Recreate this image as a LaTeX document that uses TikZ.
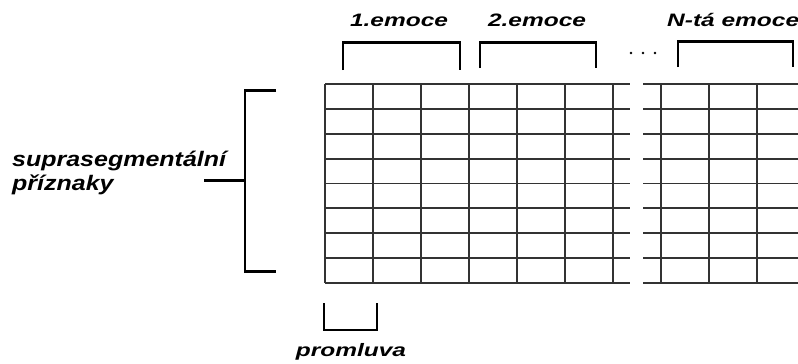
\documentclass[tikz,border=0pt]{standalone}
\usepackage{fontspec}
\setmainfont{Liberation Sans}[FakeStretch=1.36]
\newfontfamily\widefont{Liberation Sans}[FakeStretch=1.19]
\begin{document}
\begin{tikzpicture}[x=1bp,y=-1bp,
  grid/.style={line width=1.8bp, draw=black!80},
  brk/.style={line width=2.6bp, line cap=butt, line join=miter},
  lab/.style={font=\fontsize{18bp}{20bp}\selectfont\bfseries\itshape, inner sep=0pt, anchor=base},
  biglab/.style={font=\widefont\fontsize{21bp}{24bp}\selectfont\bfseries\itshape, inner sep=0pt, anchor=base west}]
\useasboundingbox (0,0) rectangle (798,363);
% left grid part
\foreach \x in {325,373,421,469,517,565,613}
  \draw[grid] (\x,84.3) -- (\x,282.7);
\foreach \i in {0,...,8}
  \draw[grid] (325,{84.3+24.8*\i}) -- (630,{84.3+24.8*\i});
% right grid part
\foreach \x in {661,709,757}
  \draw[grid] (\x,84.3) -- (\x,282.7);
\foreach \i in {0,...,8}
  \draw[grid] (643,{84.3+24.8*\i}) -- (798,{84.3+24.8*\i});
% top brackets
\draw[brk] (343,70) -- (343,42.7) -- (460,42.7) -- (460,70);
\draw[brk] (480,68) -- (480,42.7) -- (596,42.7) -- (596,68);
\draw[brk] (678,67) -- (678,41.5) -- (793,41.5) -- (793,67);
\foreach \x in {631,643,655} \fill (\x,53) circle (1.3);
% left bracket
\draw[brk] (276,90.7) -- (245,90.7) -- (245,271.7) -- (276,271.7);
\draw[brk] (204,180.7) -- (245,180.7);
% bottom bracket
\draw[brk] (324,303) -- (324,330) -- (377,330) -- (377,303);
% labels
\node[lab] (e1) at (399,26.3) {1.emoce};
\node[lab] (e2) at (537,26.3) {2.emoce};
\node[lab, anchor=base west] (eN) at (667,26.3) {N-tá emoce};
\node[biglab] (s1) at (12,166.7) {suprasegmentální};
\node[biglab] (s2) at (12,190.7) {příznaky};
\node[lab] (pr) at (351,356) {promluva};
\end{tikzpicture}
\end{document}
